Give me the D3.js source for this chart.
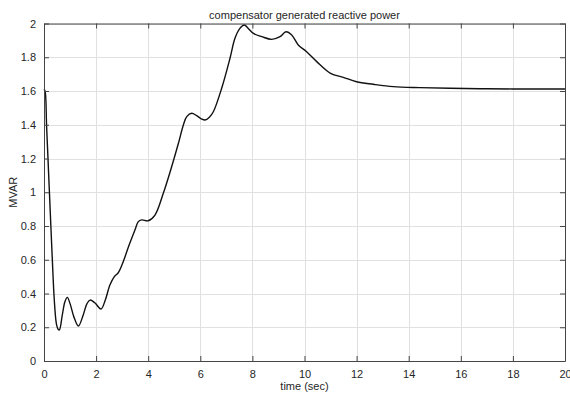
<!DOCTYPE html>
<html>
<head>
<meta charset="utf-8">
<script src="https://cdn.jsdelivr.net/npm/d3@7"></script>
<style>
    body { margin: 0; background: #fff; }
    text { font-family: "Liberation Sans", Arial, sans-serif; fill: #262626; }
</style>
</head>
<body>
<svg id="chart" width="570" height="394"></svg>
<script>
const TITLE = "compensator generated reactive power";
const X_LABEL = "time (sec)";
const Y_LABEL = "MVAR";
const X_TICKS = [0, 2, 4, 6, 8, 10, 12, 14, 16, 18, 20];
const Y_TICKS = [0, 0.2, 0.4, 0.6, 0.8, 1, 1.2, 1.4, 1.6, 1.8, 2];

// time (s) and generated reactive power (MVAR)
const time = [0, 0.04, 0.1, 0.2, 0.27, 0.32, 0.38, 0.45, 0.49, 0.55, 0.59, 0.7, 0.8, 0.895,
    1.0, 1.15, 1.32, 1.5, 1.65, 1.77, 1.95, 2.19, 2.35, 2.53, 2.7, 2.85, 3.04, 3.25, 3.49,
    3.62, 3.75, 4.0, 4.26, 4.58, 4.9, 5.16, 5.35, 5.48, 5.67, 5.85, 6.05, 6.18, 6.35, 6.5,
    6.82, 7.14, 7.33, 7.52, 7.69, 7.84, 8.04, 8.36, 8.74, 9.06, 9.29, 9.51, 9.76, 10.08,
    10.47, 11.0, 11.49, 12.0, 12.64, 13.41, 14.43, 15.59, 17, 18.5, 20];
const mvar = [1.61, 1.6, 1.39, 1.03, 0.776, 0.6, 0.4, 0.25, 0.21, 0.186, 0.184, 0.27, 0.35, 0.377,
    0.34, 0.26, 0.207, 0.27, 0.34, 0.361, 0.345, 0.308, 0.36, 0.45, 0.5, 0.523, 0.588, 0.68, 0.776,
    0.826, 0.836, 0.831, 0.865, 0.994, 1.151, 1.29, 1.399, 1.448, 1.468, 1.455, 1.434, 1.428, 1.445, 1.477,
    1.616, 1.794, 1.912, 1.971, 1.991, 1.971, 1.941, 1.922, 1.906, 1.922, 1.951, 1.932, 1.873, 1.833,
    1.774, 1.705, 1.681, 1.655, 1.64, 1.626, 1.62, 1.616, 1.613, 1.612, 1.612];

const margin = { top: 23.5, right: 5, bottom: 33, left: 44 };
const width = 570, height = 394;

const svg = d3.select("#chart");

const x = d3.scaleLinear().domain([0, 20]).range([margin.left, width - margin.right]);
const y = d3.scaleLinear().domain([0, 2]).range([height - margin.bottom, margin.top]);

// grid
const grid = svg.append("g").attr("stroke", "#e0e0e0").attr("stroke-width", 1);
X_TICKS.forEach(t => {
    grid.append("line")
        .attr("x1", Math.round(x(t)) + 0.5).attr("x2", Math.round(x(t)) + 0.5)
        .attr("y1", y(0)).attr("y2", y(2));
});
Y_TICKS.forEach(t => {
    grid.append("line")
        .attr("x1", x(0)).attr("x2", x(20))
        .attr("y1", Math.round(y(t)) + 0.5).attr("y2", Math.round(y(t)) + 0.5);
});

// data line
const line = d3.line()
    .x((d, i) => x(time[i]))
    .y(d => y(d))
    .curve(d3.curveCatmullRom.alpha(0.5));

svg.append("path")
    .datum(mvar)
    .attr("fill", "none")
    .attr("stroke", "#111")
    .attr("stroke-width", 1.4)
    .attr("d", line);

// axes, MATLAB style box with inward ticks
const axisStyle = g => {
    g.select(".domain").attr("stroke", "#444");
    g.selectAll(".tick line").attr("stroke", "#444");
    g.selectAll(".tick text").attr("font-size", 11).attr("fill", "#262626")
        .attr("font-family", "Liberation Sans, Arial, sans-serif");
};

svg.append("g")
    .attr("transform", `translate(0,${y(0)})`)
    .call(d3.axisBottom(x).tickValues(X_TICKS).tickSize(-5).tickPadding(9).tickSizeOuter(0))
    .call(axisStyle);

svg.append("g")
    .attr("transform", `translate(0,${y(2)})`)
    .call(d3.axisTop(x).tickValues(X_TICKS).tickSize(-5).tickFormat("").tickSizeOuter(0))
    .call(axisStyle);

svg.append("g")
    .attr("transform", `translate(${x(0)},0)`)
    .call(d3.axisLeft(y).tickValues(Y_TICKS).tickSize(-5).tickPadding(8).tickSizeOuter(0)
        .tickFormat(d3.format("~g")))
    .call(axisStyle);

svg.append("g")
    .attr("transform", `translate(${x(20)},0)`)
    .call(d3.axisRight(y).tickValues(Y_TICKS).tickSize(-5).tickFormat("").tickSizeOuter(0))
    .call(axisStyle);

// labels
svg.append("text")
    .attr("x", (x(0) + x(20)) / 2).attr("y", 19)
    .attr("text-anchor", "middle").attr("font-size", 11)
    .text(TITLE);

svg.append("text")
    .attr("x", (x(0) + x(20)) / 2).attr("y", 390)
    .attr("text-anchor", "middle").attr("font-size", 11)
    .text(X_LABEL);

svg.append("text")
    .attr("transform", `translate(17,${(y(0) + y(2)) / 2}) rotate(-90)`)
    .attr("text-anchor", "middle").attr("font-size", 11)
    .text(Y_LABEL);
</script>
</body>
</html>
